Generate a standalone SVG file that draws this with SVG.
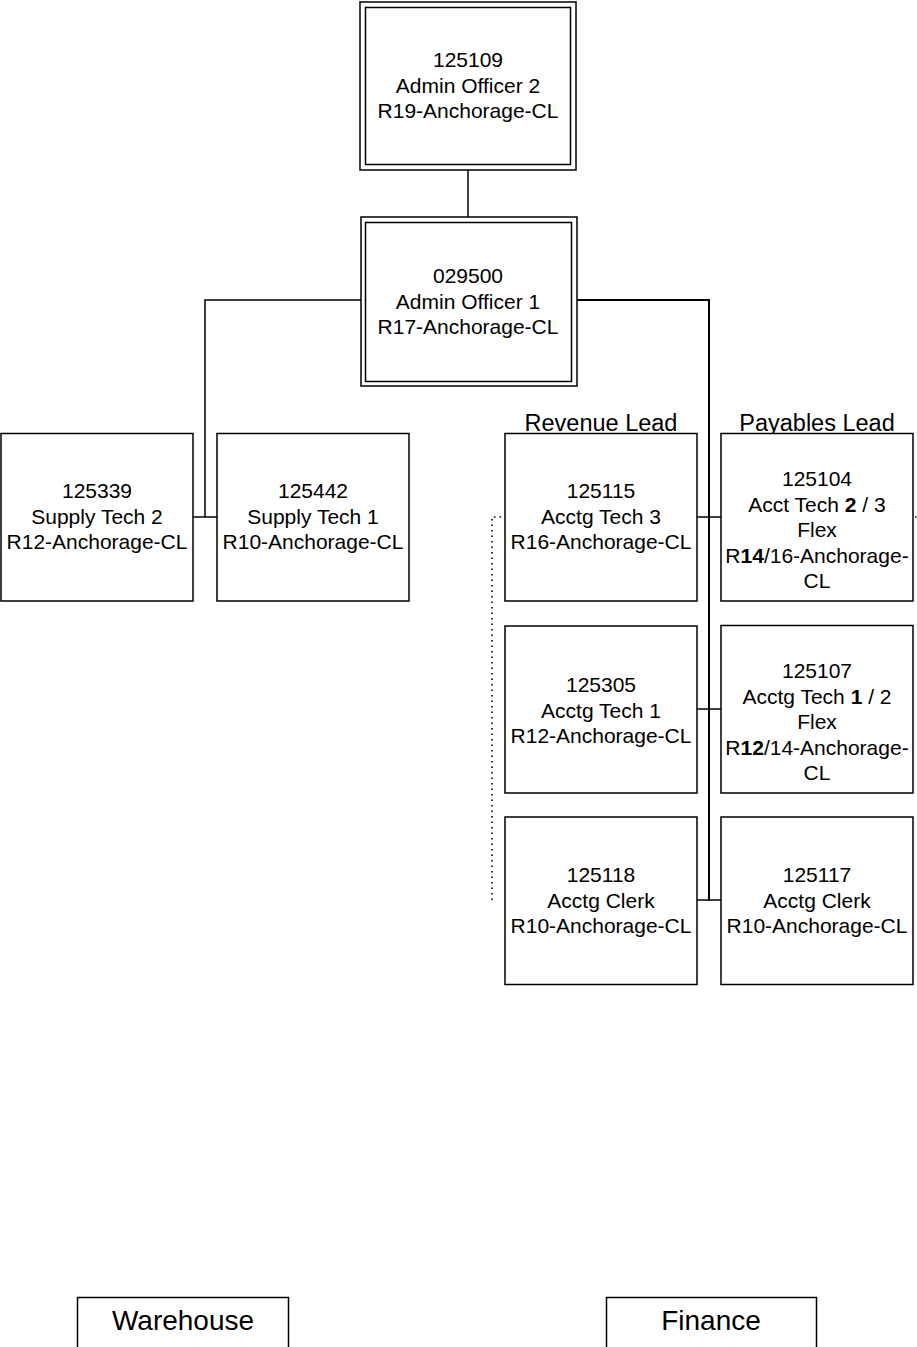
<svg xmlns="http://www.w3.org/2000/svg" width="917" height="1347" viewBox="0 0 917 1347">
<style>
.box{fill:#fff;stroke:#000;stroke-width:1.5}
.t{font-family:"Liberation Sans",Arial,sans-serif;font-size:21px;fill:#000;text-anchor:middle}
.lbl{font-family:"Liberation Sans",Arial,sans-serif;font-size:23.5px;fill:#000;text-anchor:middle}
.big{font-family:"Liberation Sans",Arial,sans-serif;font-size:28px;fill:#000;text-anchor:middle}
.c{fill:none;stroke:#000;stroke-width:1.5}
.c2{fill:none;stroke:#000;stroke-width:2}
.dot{fill:none;stroke:#000;stroke-width:1.6;stroke-dasharray:1.5 4}
</style>
<rect width="917" height="1347" fill="#fff"/>
<g id="connectors">
<line class="c" x1="468" y1="170" x2="468" y2="217"/>
<polyline class="c" points="361,300 205,300 205,517"/>
<line class="c" x1="193" y1="517" x2="217" y2="517"/>
<polyline class="c2" points="577,300 709,300 709,901"/>
<line class="c" x1="697" y1="517" x2="721" y2="517"/>
<line class="c" x1="697" y1="709" x2="721" y2="709"/>
<line class="c" x1="697" y1="900" x2="721" y2="900"/>
<polyline class="dot" points="501,517 492,517 492,903"/>
<line class="dot" x1="915" y1="517" x2="917" y2="517"/>
</g>
<g id="n125109">
<rect class="box" x="360" y="2" width="216" height="168"/>
<rect class="box" x="365.5" y="7.5" width="205" height="157"/>
<text class="t" x="468" y="67">125109</text>
<text class="t" x="468" y="93">Admin Officer 2</text>
<text class="t" x="468" y="118">R19-Anchorage-CL</text>
</g>
<g id="n029500">
<rect class="box" x="361" y="217" width="216" height="169"/>
<rect class="box" x="365.5" y="222.5" width="206" height="159"/>
<text class="t" x="468" y="283">029500</text>
<text class="t" x="468" y="308.5">Admin Officer 1</text>
<text class="t" x="468" y="334">R17-Anchorage-CL</text>
</g>
<g id="n125339">
<rect class="box" x="1" y="433.5" width="192" height="167.5"/>
<text class="t" x="97" y="498">125339</text>
<text class="t" x="97" y="523.5">Supply Tech 2</text>
<text class="t" x="97" y="549">R12-Anchorage-CL</text>
</g>
<g id="n125442">
<rect class="box" x="217" y="433.5" width="192" height="167.5"/>
<text class="t" x="313" y="498">125442</text>
<text class="t" x="313" y="523.5">Supply Tech 1</text>
<text class="t" x="313" y="549">R10-Anchorage-CL</text>
</g>
<g id="n125115">
<text class="lbl" x="601" y="431">Revenue Lead</text>
<rect class="box" x="505" y="433.5" width="192" height="167.5"/>
<text class="t" x="601" y="498">125115</text>
<text class="t" x="601" y="523.5">Acctg Tech 3</text>
<text class="t" x="601" y="549">R16-Anchorage-CL</text>
</g>
<g id="n125104">
<text class="lbl" x="817" y="431">Payables Lead</text>
<rect class="box" x="721" y="433.5" width="192" height="167.5"/>
<text class="t" x="817" y="486">125104</text>
<text class="t" x="817" y="511.5">Acct Tech <tspan font-weight="bold">2</tspan> / 3</text>
<text class="t" x="817" y="537">Flex</text>
<text class="t" x="817" y="562.5">R<tspan font-weight="bold">14</tspan>/16-Anchorage-</text>
<text class="t" x="817" y="588">CL</text>
</g>
<g id="n125305">
<rect class="box" x="505" y="626" width="192" height="167"/>
<text class="t" x="601" y="692">125305</text>
<text class="t" x="601" y="717.5">Acctg Tech 1</text>
<text class="t" x="601" y="743">R12-Anchorage-CL</text>
</g>
<g id="n125107">
<rect class="box" x="721" y="625.5" width="192" height="167.5"/>
<text class="t" x="817" y="678">125107</text>
<text class="t" x="817" y="703.5">Acctg Tech <tspan font-weight="bold">1</tspan> / 2</text>
<text class="t" x="817" y="729">Flex</text>
<text class="t" x="817" y="754.5">R<tspan font-weight="bold">12</tspan>/14-Anchorage-</text>
<text class="t" x="817" y="780">CL</text>
</g>
<g id="n125118">
<rect class="box" x="505" y="817" width="192" height="167.5"/>
<text class="t" x="601" y="882">125118</text>
<text class="t" x="601" y="907.5">Acctg Clerk</text>
<text class="t" x="601" y="933">R10-Anchorage-CL</text>
</g>
<g id="n125117">
<rect class="box" x="721" y="817" width="192" height="167.5"/>
<text class="t" x="817" y="882">125117</text>
<text class="t" x="817" y="907.5">Acctg Clerk</text>
<text class="t" x="817" y="933">R10-Anchorage-CL</text>
</g>
<g id="warehouse">
<rect class="box" x="77.5" y="1297.5" width="211" height="52"/>
<text class="big" x="183" y="1330">Warehouse</text>
</g>
<g id="finance">
<rect class="box" x="606.5" y="1297.5" width="210" height="52"/>
<text class="big" x="711" y="1330">Finance</text>
</g>
</svg>
